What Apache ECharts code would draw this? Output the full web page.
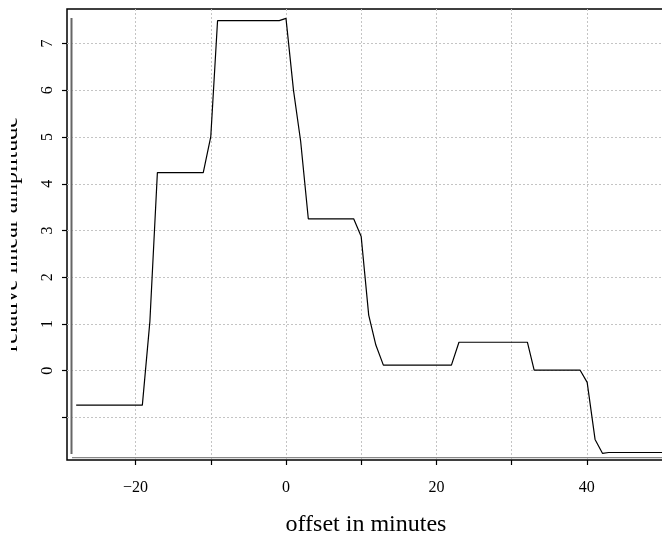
<!DOCTYPE html>
<html>
<head>
<meta charset="utf-8">
<script src="https://cdn.jsdelivr.net/npm/echarts@6/dist/echarts.min.js"></script>
<style>
  html, body { margin: 0; padding: 0; background: #fff; }
  #chart { width: 662px; height: 535px; }
</style>
</head>
<body>
<div id="chart"></div>
<script>
// offset (minutes) and amplitude
var offsets = [-27.9, -19.1, -18.1, -17.1, -11.0, -10.0, -9.1, -0.9, 0, 1.0, 1.95, 2.97,
               9.0, 10.0, 11.0, 11.95, 12.95, 22.0, 23.0, 32.1, 33.0, 39.1, 40.05, 41.1,
               42.1, 42.9, 50.0];
var amplitudes = [-0.735, -0.735, 1.05, 4.24, 4.24, 5.01, 7.49, 7.49, 7.54, 6.0, 4.91, 3.25,
                  3.25, 2.87, 1.19, 0.55, 0.12, 0.12, 0.61, 0.61, 0.015, 0.015, -0.25, -1.47,
                  -1.77, -1.75, -1.75];

var xTicks = [-20, -10, 0, 10, 20, 30, 40];
var xLabels = [-20, 0, 20, 40];
var yTicks = [-1, 0, 1, 2, 3, 4, 5, 6, 7];
var yLabels = [0, 1, 2, 3, 4, 5, 6, 7];

var serif = 'Liberation Serif';

var points = offsets.map(function (x, i) { return [x, amplitudes[i]]; });

function minus(v) {
    return v < 0 ? '\u2212' + Math.abs(v) : String(v);
}

var chart = echarts.init(document.getElementById('chart'));
chart.setOption({
    animation: false,
    backgroundColor: '#fff',
    grid: {
        left: 67,
        top: 9,
        right: -3,
        bottom: 75,
        outerBoundsMode: 'none',
        containLabel: false,
        show: true,
        borderColor: '#000',
        borderWidth: 1.5,
        backgroundColor: 'transparent'
    },
    xAxis: {
        type: 'value',
        min: -29.12,
        max: 50.4,
        name: 'offset in minutes',
        nameLocation: 'middle',
        nameGap: 53,
        nameTextStyle: { fontFamily: serif, fontSize: 24, color: '#000' },
        axisLine: { show: false, onZero: false },
        axisTick: { show: true, length: 5, customValues: xTicks, lineStyle: { color: '#000', width: 1.2 } },
        axisLabel: {
            customValues: xLabels,
            margin: 20,
            fontFamily: serif,
            fontSize: 16,
            color: '#000',
            formatter: minus
        },
        splitLine: { show: true, lineStyle: { color: '#c4c4c4', width: 1, type: [2, 2] } }
    },
    yAxis: {
        type: 'value',
        min: -1.91,
        max: 7.74,
        name: 'relative linear amplitude',
        nameLocation: 'middle',
        nameGap: 44,
        nameRotate: 90,
        nameTextStyle: { fontFamily: serif, fontSize: 24, color: '#000' },
        axisLine: { show: false, onZero: false },
        axisTick: { show: true, length: 5, customValues: yTicks, lineStyle: { color: '#000', width: 1.2 } },
        axisLabel: {
            customValues: yLabels,
            rotate: 90,
            margin: 11,
            fontFamily: serif,
            fontSize: 16,
            color: '#000'
        },
        splitLine: { show: true, lineStyle: { color: '#c4c4c4', width: 1, type: [2, 2] } }
    },
    series: [{
        type: 'line',
        data: points,
        showSymbol: false,
        lineStyle: { color: '#000', width: 1.2 },
        z: 5
    }],
    graphic: [
        // inner grey frame lines seen just inside the black box
        { type: 'line', z: 10, shape: { x1: 71.5, y1: 18, x2: 71.5, y2: 454 },
          style: { stroke: '#666', lineWidth: 2 } },
        { type: 'line', z: 10, shape: { x1: 72, y1: 457.7, x2: 662, y2: 457.7 },
          style: { stroke: '#888', lineWidth: 1.2 } },
        // the reference crops the left edge of the y title
        { type: 'rect', z: 100, shape: { x: 0, y: 0, width: 11, height: 535 },
          style: { fill: '#fff' } }
    ]
});
</script>
</body>
</html>
